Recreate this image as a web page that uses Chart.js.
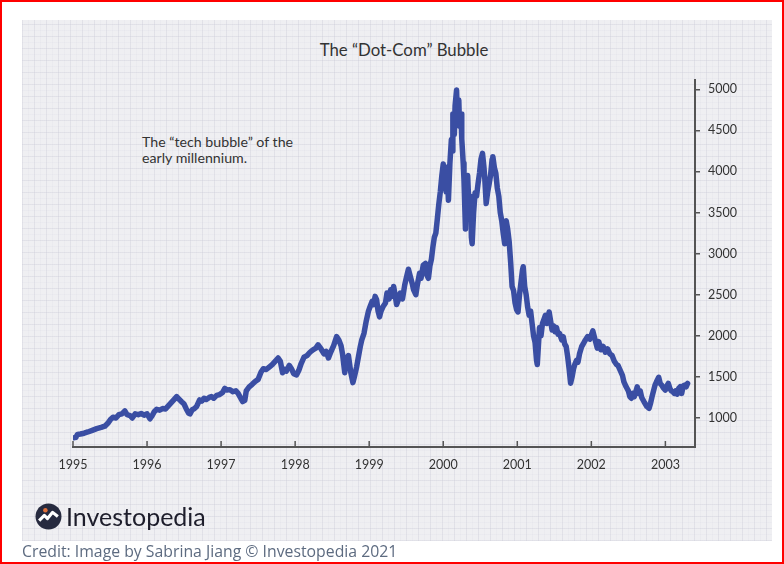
<!DOCTYPE html>
<html>
<head>
<meta charset="utf-8">
<script src="https://cdn.jsdelivr.net/npm/chart.js@4.4.0/dist/chart.umd.min.js"></script>
<style>
  html, body { margin: 0; padding: 0; background: #fff; }
  body { width: 784px; height: 564px; position: relative; overflow: hidden; font-family: Lato, "Open Sans", sans-serif; }
  #panel {
    position: absolute; left: 22px; top: 20px; width: 750px; height: 521px;
    background-color: #efeff2;
    background-image:
      repeating-linear-gradient(90deg, rgba(205,205,216,0.32) 0 1px, transparent 1px 12px),
      repeating-linear-gradient(0deg, rgba(205,205,216,0.32) 0 1px, transparent 1px 12px),
      repeating-linear-gradient(90deg, rgba(218,218,228,0.2) 0 1px, transparent 1px 6px),
      repeating-linear-gradient(0deg, rgba(218,218,228,0.2) 0 1px, transparent 1px 6px);
  }
  #chart { position: absolute; left: 0; top: 0; }
  .title { position: absolute; left: 0; width: 808px; top: 40px; text-align: center; font-size: 16.8px; line-height: 20px; color: #333; }
  .note { position: absolute; left: 142px; top: 134px; font-size: 14.2px; line-height: 16px; color: #333; }
  .logo { position: absolute; left: 35px; top: 502px; height: 28px; display: flex; align-items: center; }
  .logo span { font-size: 25px; line-height: 28px; color: #1d1d2b; margin-left: 4px; }
  .credit { position: absolute; left: 22px; top: 541px; font-family: "Open Sans", sans-serif; font-size: 15.8px; line-height: 20px; color: #5d6b80; white-space: nowrap; }
  #frame { position: absolute; left: 0; top: 0; width: 780px; height: 560px; border: 2px solid #f00; z-index: 10; }
</style>
</head>
<body>
<div id="panel"></div>
<div class="title">The “Dot-Com” Bubble</div>
<div class="note">The “tech bubble” of the<br>early millennium.</div>
<canvas id="chart" width="784" height="564"></canvas>
<div class="logo">
  <svg width="27" height="27" viewBox="0 0 26 26">
    <circle cx="13" cy="13" r="12.5" fill="#262a3f"/>
    <path d="M4 17 L9 12 L12 15 L17 9 L22 13" stroke="#fff" stroke-width="3" fill="none" stroke-linejoin="round"/>
    <circle cx="10" cy="7" r="2.2" fill="#e0703a"/>
  </svg>
  <span>Investopedia</span>
</div>
<div class="credit">Credit: Image by Sabrina Jiang © Investopedia 2021</div>
<div id="frame"></div>
<script>
// NASDAQ-style index (decimal year -> level)
const dates = [
  1995.02, 1995.04, 1995.06, 1995.10, 1995.15, 1995.20, 1995.26, 1995.32, 1995.38, 1995.43,
  1995.47, 1995.51, 1995.54, 1995.58, 1995.62, 1995.66, 1995.70, 1995.73, 1995.77, 1995.80,
  1995.84, 1995.88, 1995.92, 1995.96, 1996.00, 1996.04, 1996.07, 1996.10, 1996.13, 1996.17,
  1996.21, 1996.25, 1996.29, 1996.33, 1996.37, 1996.40, 1996.43, 1996.47, 1996.50, 1996.53,
  1996.56, 1996.58, 1996.61, 1996.64, 1996.67, 1996.71, 1996.74, 1996.77, 1996.80, 1996.84,
  1996.87, 1996.90, 1996.94, 1996.98, 1997.02, 1997.05, 1997.08, 1997.12, 1997.16, 1997.20,
  1997.23, 1997.26, 1997.29, 1997.32, 1997.34, 1997.38, 1997.42, 1997.46, 1997.50, 1997.54,
  1997.57, 1997.61, 1997.65, 1997.69, 1997.73, 1997.77, 1997.80, 1997.83, 1997.86, 1997.88,
  1997.92, 1997.95, 1997.98, 1998.02, 1998.05, 1998.08, 1998.12, 1998.16, 1998.20, 1998.24,
  1998.28, 1998.31, 1998.35, 1998.39, 1998.42, 1998.45, 1998.48, 1998.52, 1998.56, 1998.59,
  1998.62, 1998.64, 1998.67, 1998.69, 1998.72, 1998.75, 1998.78, 1998.80, 1998.83, 1998.85,
  1998.88, 1998.90, 1998.93, 1998.96, 1998.99, 1999.01, 1999.04, 1999.06, 1999.08, 1999.10,
  1999.12, 1999.14, 1999.16, 1999.19, 1999.22, 1999.24, 1999.27, 1999.29, 1999.31, 1999.33,
  1999.35, 1999.37, 1999.39, 1999.42, 1999.45, 1999.48, 1999.50, 1999.53, 1999.55, 1999.58,
  1999.60, 1999.63, 1999.65, 1999.68, 1999.70, 1999.73, 1999.76, 1999.78, 1999.80, 1999.82,
  1999.84, 1999.86, 1999.88, 1999.90, 1999.92, 1999.94, 1999.96, 1999.98, 2000.00, 2000.02,
  2000.04, 2000.05, 2000.07, 2000.09, 2000.11, 2000.12, 2000.13, 2000.15, 2000.16, 2000.18,
  2000.19, 2000.21, 2000.22, 2000.24, 2000.25, 2000.27, 2000.28, 2000.30, 2000.31, 2000.33,
  2000.35, 2000.37, 2000.38, 2000.39, 2000.41, 2000.43, 2000.45, 2000.47, 2000.49, 2000.51,
  2000.53, 2000.55, 2000.56, 2000.58, 2000.60, 2000.62, 2000.64, 2000.66, 2000.67, 2000.69,
  2000.71, 2000.73, 2000.75, 2000.77, 2000.79, 2000.81, 2000.83, 2000.85, 2000.87, 2000.89,
  2000.91, 2000.93, 2000.95, 2000.97, 2000.99, 2001.01, 2001.03, 2001.05, 2001.07, 2001.08,
  2001.10, 2001.12, 2001.14, 2001.16, 2001.18, 2001.20, 2001.22, 2001.24, 2001.26, 2001.27,
  2001.28, 2001.30, 2001.32, 2001.34, 2001.36, 2001.38, 2001.40, 2001.43, 2001.45, 2001.47,
  2001.49, 2001.51, 2001.53, 2001.55, 2001.57, 2001.60, 2001.62, 2001.64, 2001.66, 2001.68,
  2001.70, 2001.72, 2001.74, 2001.76, 2001.78, 2001.80, 2001.82, 2001.84, 2001.87, 2001.89,
  2001.92, 2001.95, 2001.98, 2002.02, 2002.04, 2002.06, 2002.08, 2002.10, 2002.13, 2002.16,
  2002.19, 2002.22, 2002.25, 2002.28, 2002.31, 2002.34, 2002.36, 2002.39, 2002.42, 2002.44,
  2002.47, 2002.50, 2002.52, 2002.54, 2002.56, 2002.58, 2002.60, 2002.62, 2002.64, 2002.66,
  2002.68, 2002.71, 2002.73, 2002.75, 2002.78, 2002.80, 2002.82, 2002.84, 2002.86, 2002.88,
  2002.91, 2002.93, 2002.95, 2002.97, 2003.00, 2003.02, 2003.04, 2003.06, 2003.08, 2003.10,
  2003.12, 2003.14, 2003.16, 2003.18, 2003.20, 2003.22, 2003.24, 2003.26, 2003.28, 2003.30
];
const closes = [
  760, 765, 800, 805, 815, 830, 850, 870, 885, 900,
  935, 985, 1010, 1000, 1040, 1050, 1085, 1040, 1030, 1000,
  1050, 1040, 1055, 1035, 1050, 990, 1030, 1080, 1105, 1095,
  1115, 1110, 1150, 1190, 1230, 1260, 1230, 1195, 1170, 1110,
  1060, 1050, 1100, 1115, 1140, 1220, 1205, 1240, 1225, 1250,
  1260, 1240, 1275, 1285, 1310, 1360, 1340, 1345, 1320, 1330,
  1300, 1250, 1200, 1215, 1330, 1380, 1410, 1445, 1470, 1560,
  1600, 1590, 1620, 1650, 1690, 1730, 1690, 1550, 1590, 1570,
  1640, 1600, 1540, 1525, 1580, 1660, 1740, 1760, 1800, 1830,
  1850, 1890, 1840, 1780, 1810, 1730, 1800, 1880, 1990, 1950,
  1880, 1780, 1550, 1720, 1760, 1560, 1430, 1500, 1620, 1720,
  1870, 1950, 2030, 2180, 2300, 2350, 2420, 2380, 2480, 2440,
  2300, 2230, 2300, 2360, 2400, 2520, 2450, 2560, 2480, 2600,
  2500, 2380, 2430, 2520, 2450, 2620, 2700, 2810, 2740, 2640,
  2560, 2500, 2620, 2760, 2700, 2860, 2880, 2740, 2700, 2850,
  2930, 3080, 3200, 3250, 3420, 3600, 3750, 3940, 4090, 3850,
  3750, 4050, 3650, 4100, 4390, 4250, 4700, 4450, 4800, 4990,
  4700, 4870, 4550, 4700, 4400, 4100, 3900, 3300, 3800, 3950,
  3500, 3700, 3200, 3120, 3500, 3740, 3700, 3850, 3980, 4150,
  4220, 4050, 3930, 3610, 3750, 3850, 3960, 4150, 4180, 4050,
  3980, 3800, 3700, 3500, 3400, 3250, 3120, 3400, 3300, 3150,
  2900, 2600, 2550, 2400, 2320, 2290, 2500, 2650, 2800, 2840,
  2600, 2500, 2350, 2250, 2300, 2150, 2000, 1920, 1700, 1650,
  1800, 2100, 2000, 2150, 2200, 2250, 2150, 2290, 2180, 2070,
  2120, 2050, 2100, 2020, 2030, 1950, 1990, 1900, 1870, 1750,
  1600, 1423, 1500, 1600, 1660, 1700, 1680, 1780, 1870, 1900,
  1950, 1990, 1960, 2060, 1990, 1920, 1850, 1930, 1830, 1870,
  1800, 1840, 1780, 1760, 1690, 1650, 1640, 1580, 1520, 1440,
  1380, 1330, 1260, 1240, 1300, 1260, 1320, 1380, 1300, 1330,
  1250, 1200, 1170, 1140, 1118, 1180, 1260, 1330, 1400, 1440,
  1495, 1420, 1400, 1370, 1340, 1390, 1420, 1360, 1330, 1320,
  1300, 1330, 1290, 1360, 1380, 1300, 1390, 1400, 1380, 1420
];
const yearTicks = [1995, 1996, 1997, 1998, 1999, 2000, 2001, 2002, 2003];
const valueTicks = [1000, 1500, 2000, 2500, 3000, 3500, 4000, 4500, 5000];

const axisColor = '#555';
const tickFont = { family: 'Lato, "Open Sans", sans-serif', size: 12.5 };

// x ticks in the picture point up into the plot
const innerTicks = {
  id: 'innerTicks',
  afterDraw(chart) {
    const x = chart.scales.x, ctx = chart.ctx;
    ctx.save();
    ctx.strokeStyle = axisColor;
    ctx.lineWidth = 1.5;
    yearTicks.forEach(v => {
      const px = x.getPixelForValue(v);
      ctx.beginPath();
      ctx.moveTo(px, x.top);
      ctx.lineTo(px, x.top - 6);
      ctx.stroke();
    });
    ctx.restore();
  }
};

new Chart(document.getElementById('chart'), {
  type: 'line',
  data: {
    datasets: [{
      data: dates.map((d, i) => ({ x: d, y: closes[i] })),
      borderColor: '#3a4ea3',
      borderWidth: 5.5,
      pointRadius: 0,
      tension: 0,
      fill: false,
      borderJoinStyle: 'round',
      borderCapStyle: 'round'
    }]
  },
  options: {
    responsive: false,
    animation: false,
    layout: { padding: { left: 73, top: 80, right: 29, bottom: 77 } },
    plugins: { legend: { display: false }, tooltip: { enabled: false } },
    scales: {
      x: {
        type: 'linear',
        min: 1995,
        max: 2003.4,
        afterBuildTicks: s => { s.ticks = yearTicks.map(v => ({ value: v })); },
        afterFit: s => { s.height = 40; },
        ticks: { font: tickFont, color: '#333', padding: 10, maxRotation: 0, autoSkip: false, callback: v => String(v) },
        grid: { drawOnChartArea: false, drawTicks: false },
        border: { color: axisColor, width: 2 }
      },
      y: {
        position: 'right',
        min: 647,
        max: 5113,
        afterBuildTicks: s => { s.ticks = valueTicks.map(v => ({ value: v })); },
        afterFit: s => { s.width = 60; },
        ticks: { font: tickFont, color: '#333', padding: 8, callback: v => String(v) },
        grid: { drawOnChartArea: false, drawTicks: true, tickLength: 5, color: axisColor, lineWidth: 1.5 },
        border: { color: axisColor, width: 2 }
      }
    }
  },
  plugins: [innerTicks]
});
</script>
</body>
</html>
